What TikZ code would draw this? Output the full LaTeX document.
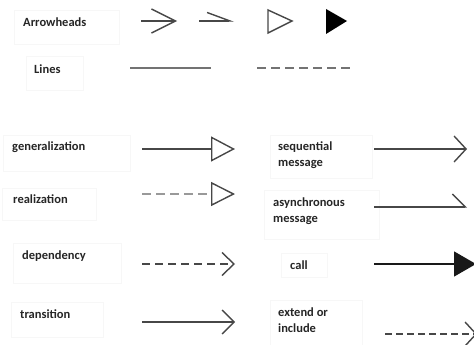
\documentclass[tikz,border=0pt]{standalone}
\usepackage{fontspec}
\setmainfont{Carlito}
\usetikzlibrary{arrows.meta}
\begin{document}
\begin{tikzpicture}[x=1pt,y=-1pt,
    lbl/.style={font=\bfseries\fontsize{12.5}{16}\selectfont,text=black!85,inner sep=0pt,anchor=west,align=left},
    lbox/.style={draw=black!3,line width=0.5pt},
    ln/.style={draw=black!72,line width=1.4pt},
    dsh/.style={ln,dash pattern=on 9pt off 5pt}]
  \useasboundingbox (0,0) rectangle (474,345);
  \clip (0,0) rectangle (474,345);
  \fill[white] (0,0) rectangle (474,345);

  \draw[lbox] (14,10) rectangle (119,44);
  \node[lbl](arrowheads) at (23,22){Arrowheads};
  \coordinate (o1) at (141,21); \coordinate (o2) at (177,21);
  \draw[ln,-{Straight Barb[length=24pt,width=24pt]}] (o1) -- (o2);
  \coordinate (h1) at (199,21); \coordinate (h2) at (234,21);
  \draw[ln,-{Straight Barb[left,length=23pt,width=17pt]}] (h1) -- (h2);
  \draw[ln,line join=miter] (268,10) -- (292,21) -- (268,33) -- cycle;
  \fill[black] (326,9) -- (347,21) -- (326,34) -- cycle;

  \draw[lbox] (26,56) rectangle (83,90);
  \node[lbl](lines) at (34,69){Lines};
  \coordinate (s1) at (130,68); \coordinate (s2) at (211,68);
  \draw[ln,draw=black!55,line width=2pt] (s1) -- (s2);
  \coordinate (d1) at (257,68); \coordinate (d2) at (351,68);
  \draw[dsh,draw=black!55,line width=2pt] (d1) -- (d2);

  \draw[lbox] (3,135) rectangle (130,171);
  \node[lbl](gen) at (12,147){generalization};
  \coordinate (gen1) at (142,149); \coordinate (gen2) at (235,149);
  \draw[ln,-{Triangle[open,length=24pt,width=25pt]}] (gen1) -- (gen2);

  \draw[lbox] (2,188) rectangle (96,220);
  \node[lbl](real) at (13,199){realization};
  \coordinate (real1) at (142,194); \coordinate (real2) at (235,194);
  \draw[dsh,draw=black!40,-{Triangle[open,color=black!72,length=24pt,width=24pt]}] (real1) -- (real2);

  \draw[lbox] (13,243) rectangle (121,283);
  \node[lbl](dep) at (22,256){dependency};
  \coordinate (dep1) at (142,264); \coordinate (dep2) at (235,264);
  \draw[dsh,dash pattern=on 8pt off 5pt,-{Straight Barb[length=12pt,width=23pt]}] (dep1) -- (dep2);

  \draw[lbox] (11,302) rectangle (103,337);
  \node[lbl](trans) at (20,314){transition};
  \coordinate (trans1) at (142,322); \coordinate (trans2) at (235,322);
  \draw[ln,-{Straight Barb[length=12pt,width=24pt]}] (trans1) -- (trans2);

  \draw[lbox] (270,135) rectangle (372,178);
  \node[lbl](seq) at (278,155){sequential\\message};
  \coordinate (seq1) at (374,149); \coordinate (seq2) at (467,149);
  \draw[ln,-{Straight Barb[length=12pt,width=26pt]}] (seq1) -- (seq2);

  \draw[lbox] (264,190) rectangle (379,239);
  \node[lbl](async) at (273,211){asynchronous\\message};
  \coordinate (async1) at (374,207); \coordinate (async2) at (467,207);
  \draw[ln,-{Straight Barb[left,length=13pt,width=26pt]}] (async1) -- (async2);

  \draw[lbox] (281,253) rectangle (327,277);
  \node[lbl](call) at (290,265){call};
  \coordinate (call1) at (374,264); \coordinate (call2) at (476,264);
  \draw[ln,draw=black!90,-{Triangle[length=22pt,width=25pt]}] (call1) -- (call2);

  \draw[lbox] (270,300) rectangle (362,350);
  \node[lbl](ext) at (278,320){extend or\\include};
  \coordinate (ext1) at (385,334); \coordinate (ext2) at (477,334);
  \draw[dsh,dash pattern=on 7pt off 4pt,-{Straight Barb[length=11pt,width=24pt]}] (ext1) -- (ext2);
\end{tikzpicture}
\end{document}
